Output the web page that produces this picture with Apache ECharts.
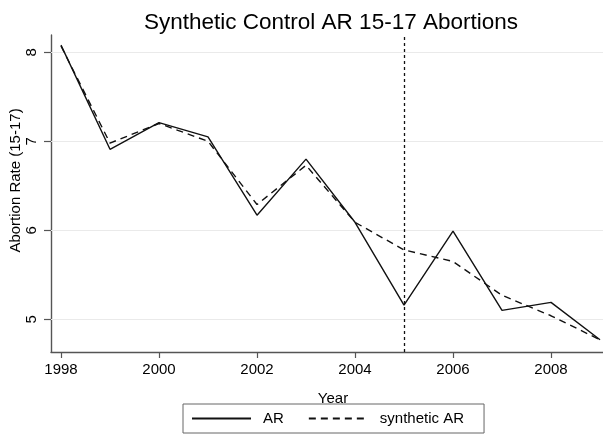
<!DOCTYPE html>
<html>
<head>
<meta charset="utf-8">
<script src="https://cdn.jsdelivr.net/npm/echarts@6/dist/echarts.min.js"></script>
<style>
  html, body { margin: 0; padding: 0; background: #fff; }
  #chart { width: 603px; height: 436px; }
</style>
</head>
<body>
<div id="chart"></div>
<script>
// Years and abortion rates (15-17) for Arkansas and its synthetic control
const years = [1998, 1999, 2000, 2001, 2002, 2003, 2004, 2005, 2006, 2007, 2008, 2009];
const arRate = [8.08, 6.91, 7.21, 7.05, 6.17, 6.80, 6.09, 5.16, 5.99, 5.10, 5.19, 4.77];
const syntheticRate = [8.07, 6.98, 7.20, 7.00, 6.29, 6.73, 6.09, 5.78, 5.65, 5.27, 5.04, 4.77];

// Axis ticks and the policy year marker
const xTicks = [1998, 2000, 2002, 2004, 2006, 2008];
const yTicks = [5, 6, 7, 8];
const treatmentYear = 2005;

const font = 'Liberation Sans, Arial, Helvetica, sans-serif';

const chart = echarts.init(document.getElementById('chart'), null, { renderer: 'canvas' });

const gridLines = yTicks.map(v => ({
  yAxis: v,
  lineStyle: { color: '#eaeaea', width: 1, type: 'solid' }
}));

chart.setOption({
  animation: false,
  backgroundColor: '#fff',
  title: {
    text: 'Synthetic Control AR 15-17 Abortions',
    left: 326,
    textAlign: 'center',
    top: 6,
    textStyle: { fontFamily: font, fontSize: 22.5, fontWeight: 'normal', color: '#000' }
  },
  grid: {
    left: 51, top: 35, width: 552, height: 317,
    containLabel: false,
    outerBoundsMode: 'none'
  },
  legend: {
    left: 183,
    top: 404,
    padding: [7, 20, 7, 8],
    itemGap: 24,
    itemWidth: 59,
    itemHeight: 14,
    borderColor: '#666',
    borderWidth: 1,
    borderRadius: 0,
    itemStyle: { color: 'transparent', borderWidth: 0, opacity: 0 },
    textStyle: { fontFamily: font, fontSize: 15, color: '#000', padding: [0, 0, 0, 7] },
    data: ['AR', 'synthetic AR']
  },
  xAxis: {
    type: 'value',
    min: 1997.796,
    max: 2009.061,
    name: 'Year',
    nameLocation: 'middle',
    nameGap: 39,
    nameTextStyle: { fontFamily: font, fontSize: 15, color: '#000', padding: [0, 0, 0, 12] },
    axisLine: { show: true, onZero: false, lineStyle: { color: '#555', width: 1.4 } },
    axisTick: { show: true, length: 6, customValues: xTicks, lineStyle: { color: '#555', width: 1.2 } },
    axisLabel: {
      customValues: xTicks,
      fontFamily: font, fontSize: 15, color: '#000', margin: 10,
      formatter: v => String(v)
    },
    splitLine: { show: false }
  },
  yAxis: {
    type: 'value',
    min: 4.633,
    max: 8.194,
    name: 'Abortion Rate (15-17)',
    nameLocation: 'middle',
    nameGap: 28,
    nameMoveOverlap: false,
    nameTextStyle: { fontFamily: font, fontSize: 15, color: '#000', padding: [0, 0, 0, 26] },
    axisLine: { show: true, onZero: false, lineStyle: { color: '#555', width: 1.4 } },
    axisTick: { show: true, length: 7, customValues: yTicks, lineStyle: { color: '#555', width: 1.2 } },
    axisLabel: {
      customValues: yTicks,
      rotate: 90,
      fontFamily: font, fontSize: 15, color: '#000', margin: 12,
      formatter: v => String(v)
    },
    splitLine: { show: false }
  },
  series: [
    {
      name: 'AR',
      type: 'line',
      data: years.map((y, i) => [y, arRate[i]]),
      symbol: 'none',
      lineStyle: { color: '#111', width: 1.4, type: 'solid' },
      itemStyle: { color: '#111' },
      z: 3,
      markLine: {
        silent: true,
        symbol: 'none',
        label: { show: false },
        z: 1,
        data: gridLines
      }
    },
    {
      name: 'synthetic AR',
      type: 'line',
      data: years.map((y, i) => [y, syntheticRate[i]]),
      symbol: 'none',
      lineStyle: { color: '#111', width: 1.4, type: [7, 5] },
      itemStyle: { color: '#111' },
      z: 3,
      markLine: {
        silent: true,
        symbol: 'none',
        label: { show: false },
        data: [{ xAxis: treatmentYear, lineStyle: { color: '#111', width: 1.3, type: [3, 3] } }]
      }
    }
  ]
});
</script>
</body>
</html>
